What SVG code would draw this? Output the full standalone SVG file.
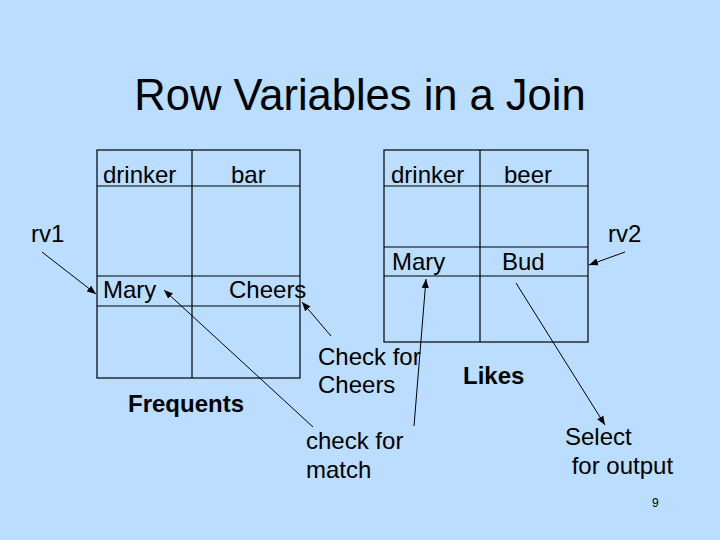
<svg xmlns="http://www.w3.org/2000/svg" width="720" height="540" viewBox="0 0 720 540">
<defs>
<style>
text{font-family:"Liberation Sans",Arial,sans-serif;fill:#000}
.t{font-size:24px}
.b{font-size:24px;font-weight:bold}
.grid{fill:none;stroke:#000;stroke-width:1.2}
.con line{stroke:#000;stroke-width:1}
</style>
<marker id="ah" viewBox="0 0 10 10" refX="10" refY="5" markerWidth="9" markerHeight="9" markerUnits="userSpaceOnUse" orient="auto">
<path d="M0,1 L10,5 L0,9 Z" fill="#000"/>
</marker>
</defs>
<rect width="720" height="540" fill="#BBDDFF"/>
<text x="360" y="110" font-size="43.5" text-anchor="middle">Row Variables in a Join</text>

<g id="frequents">
<rect class="grid" x="97" y="150" width="203" height="228"/>
<line class="grid" x1="192" y1="150" x2="192" y2="378"/>
<line class="grid" x1="97" y1="186" x2="300" y2="186"/>
<line class="grid" x1="97" y1="276" x2="300" y2="276"/>
<line class="grid" x1="97" y1="306" x2="300" y2="306"/>
<text class="t" x="103" y="183">drinker</text>
<text class="t" x="231" y="183">bar</text>
<text class="t" x="103" y="298">Mary</text>
<text class="t" x="229" y="298">Cheers</text>
<text class="b" x="128" y="412">Frequents</text>
</g>

<g id="likes">
<rect class="grid" x="384" y="150" width="204" height="192"/>
<line class="grid" x1="480" y1="150" x2="480" y2="342"/>
<line class="grid" x1="384" y1="186" x2="588" y2="186"/>
<line class="grid" x1="384" y1="247" x2="588" y2="247"/>
<line class="grid" x1="384" y1="276" x2="588" y2="276"/>
<text class="t" x="391" y="183">drinker</text>
<text class="t" x="504" y="183">beer</text>
<text class="t" x="392" y="270">Mary</text>
<text class="t" x="502" y="270">Bud</text>
<text class="b" x="463" y="384">Likes</text>
</g>

<g id="rv1"><text class="t" x="31" y="242">rv1</text></g>
<g id="rv2"><text class="t" x="608" y="242">rv2</text></g>
<g id="checkCheers"><text class="t" x="318" y="365">Check for</text><text class="t" x="318" y="393">Cheers</text></g>
<g id="checkMatch"><text class="t" x="306" y="449">check for</text><text class="t" x="306" y="478">match</text></g>
<g id="select"><text class="t" x="565" y="445">Select</text><text class="t" x="565" y="474" xml:space="preserve"> for output</text></g>
<text x="652" y="507" font-size="12">9</text>

<g class="con">
<line x1="42" y1="252" x2="96" y2="294" marker-end="url(#ah)"/>
<line x1="313" y1="427" x2="164" y2="290" marker-end="url(#ah)"/>
<line x1="331" y1="336" x2="302" y2="302" marker-end="url(#ah)"/>
<line x1="414" y1="426" x2="426" y2="279" marker-end="url(#ah)"/>
<line x1="516" y1="283" x2="605" y2="425" marker-end="url(#ah)"/>
<line x1="625" y1="252" x2="589" y2="265" marker-end="url(#ah)"/>
</g>
</svg>
